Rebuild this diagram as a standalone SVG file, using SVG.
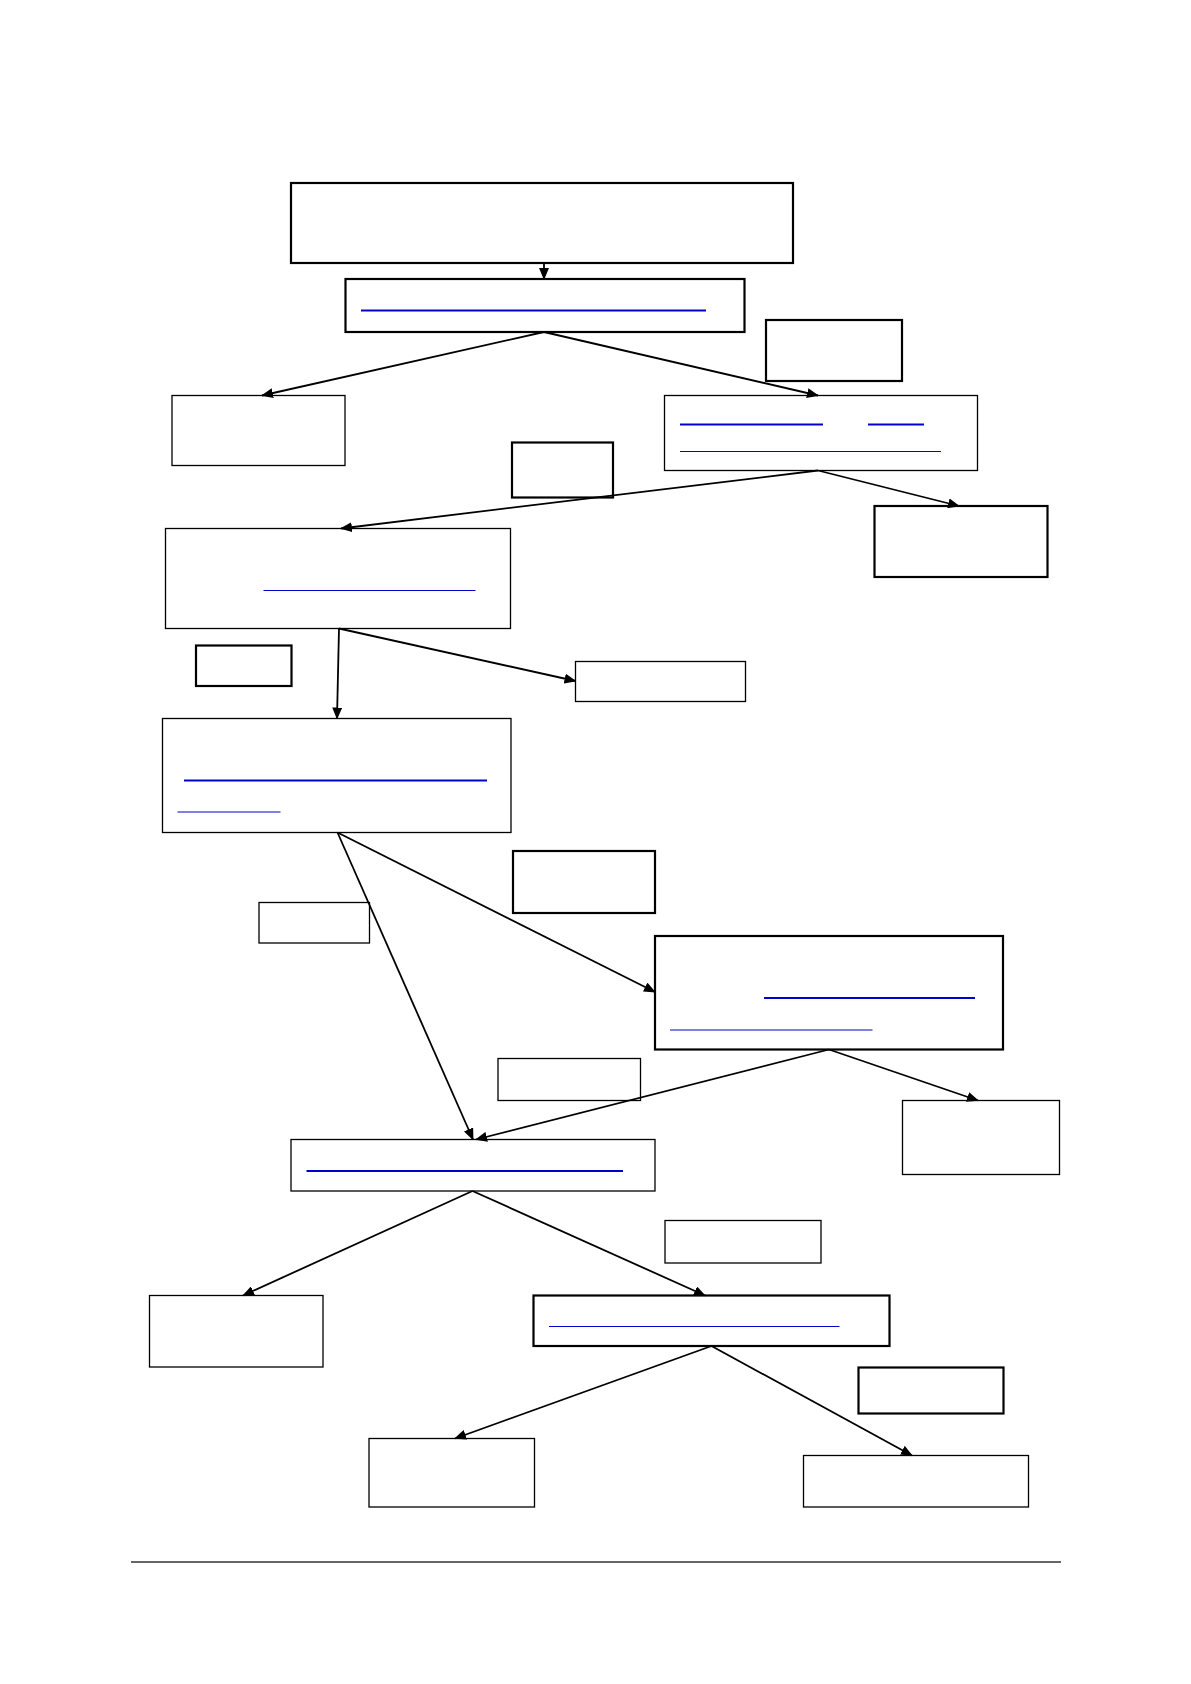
<svg xmlns="http://www.w3.org/2000/svg" width="1191" height="1684" viewBox="0 0 1191 1684">
<style>
.n{fill:#fff;stroke:#000;stroke-width:1.3}
.t{stroke-width:2.2}
.u{stroke:#0000cc;stroke-width:2}
.u1{stroke:#0000cc;stroke-width:1.2}
.c{stroke:#000;stroke-width:1.8;fill:none;marker-end:url(#ah)}
</style>
<defs>
<marker id="ah" markerUnits="userSpaceOnUse" markerWidth="12" markerHeight="10" refX="11" refY="5" orient="auto">
<path d="M0,0 L12,5 L0,10 z" fill="#000"/>
</marker>
</defs>
<rect width="1191" height="1684" fill="#fff"/>
<g id="top"><rect class="n t" x="291" y="183" width="502" height="80"/></g>
<g id="n2"><rect class="n t" x="345.5" y="279" width="399" height="53"/><line class="u" x1="361" y1="310.5" x2="706" y2="310.5"/></g>
<g id="nA"><rect class="n" x="172" y="395.5" width="173" height="70"/></g>
<g id="lab1"><rect class="n t" x="766" y="320" width="136" height="61"/></g>
<g id="nB"><rect class="n" x="664.5" y="395.5" width="313" height="75"/><line class="u" x1="680" y1="424.5" x2="823" y2="424.5"/><line class="u" x1="868" y1="424.5" x2="924" y2="424.5"/><line class="u1" x1="680" y1="451.5" x2="941" y2="451.5"/></g>
<g id="lab2"><rect class="n t" x="512" y="442.5" width="101" height="55"/></g>
<g id="nC"><rect class="n t" x="874.5" y="506" width="173" height="71"/></g>
<g id="nD"><rect class="n" x="165.5" y="528.5" width="345" height="100"/><line class="u1" x1="263.5" y1="590.5" x2="475.5" y2="590.5"/></g>
<g id="lab3"><rect class="n t" x="196" y="645.5" width="95.5" height="40.5"/></g>
<g id="nF"><rect class="n" x="575.5" y="661.5" width="170" height="40"/></g>
<g id="nG"><rect class="n" x="162.5" y="718.5" width="348.5" height="114"/><line class="u" x1="184" y1="780.5" x2="487" y2="780.5"/><line class="u1" x1="177.5" y1="812" x2="280.5" y2="812"/></g>
<g id="lab4"><rect class="n t" x="513" y="851" width="142" height="62"/></g>
<g id="lab5"><rect class="n" x="259" y="902.5" width="110.5" height="40.5"/></g>
<g id="nJ"><rect class="n t" x="655" y="936" width="348" height="113.5"/><line class="u" x1="764" y1="998" x2="975" y2="998"/><line class="u1" x1="670" y1="1030" x2="872.5" y2="1030"/></g>
<g id="lab6"><rect class="n" x="498" y="1058.5" width="142.5" height="42"/></g>
<g id="nM"><rect class="n" x="902.5" y="1100.5" width="157" height="74"/></g>
<g id="nL"><rect class="n" x="291" y="1139.5" width="364" height="51.5"/><line class="u" x1="306.5" y1="1171" x2="623" y2="1171"/></g>
<g id="lab7"><rect class="n" x="665" y="1220.5" width="156" height="42.5"/></g>
<g id="nN"><rect class="n" x="149.5" y="1295.5" width="173.5" height="71.5"/></g>
<g id="nP"><rect class="n t" x="533.5" y="1295.5" width="356" height="50.5"/><line class="u1" x1="549" y1="1326.5" x2="839.5" y2="1326.5"/></g>
<g id="lab8"><rect class="n t" x="858.5" y="1367.5" width="145" height="46"/></g>
<g id="nR"><rect class="n" x="369" y="1438.5" width="165.5" height="68.5"/></g>
<g id="nS"><rect class="n" x="803.5" y="1455.5" width="225" height="51.5"/></g>
<g id="connectors">
<line class="c" x1="544" y1="263" x2="544" y2="279"/>
<line class="c" x1="544" y1="332" x2="262" y2="395.5"/>
<line class="c" x1="544" y1="332" x2="818" y2="395.5"/>
<line class="c" x1="818" y1="470.5" x2="341" y2="528.5"/>
<line class="c" x1="818" y1="470.5" x2="959" y2="506"/>
<line class="c" x1="339" y1="628.5" x2="337" y2="718.5"/>
<line class="c" x1="339" y1="628.5" x2="575.5" y2="681"/>
<line class="c" x1="337.5" y1="832.5" x2="473" y2="1139.5"/>
<line class="c" x1="337.5" y1="832.5" x2="655" y2="992"/>
<line class="c" x1="829" y1="1049.5" x2="476" y2="1139.5"/>
<line class="c" x1="829" y1="1049.5" x2="978" y2="1100.5"/>
<line class="c" x1="472.5" y1="1191" x2="243" y2="1295.5"/>
<line class="c" x1="472.5" y1="1191" x2="705" y2="1295.5"/>
<line class="c" x1="711.5" y1="1346" x2="455" y2="1438.5"/>
<line class="c" x1="711.5" y1="1346" x2="912" y2="1455.5"/>
</g>
<line x1="131" y1="1562" x2="1061" y2="1562" stroke="#333" stroke-width="1.3"/>
</svg>
